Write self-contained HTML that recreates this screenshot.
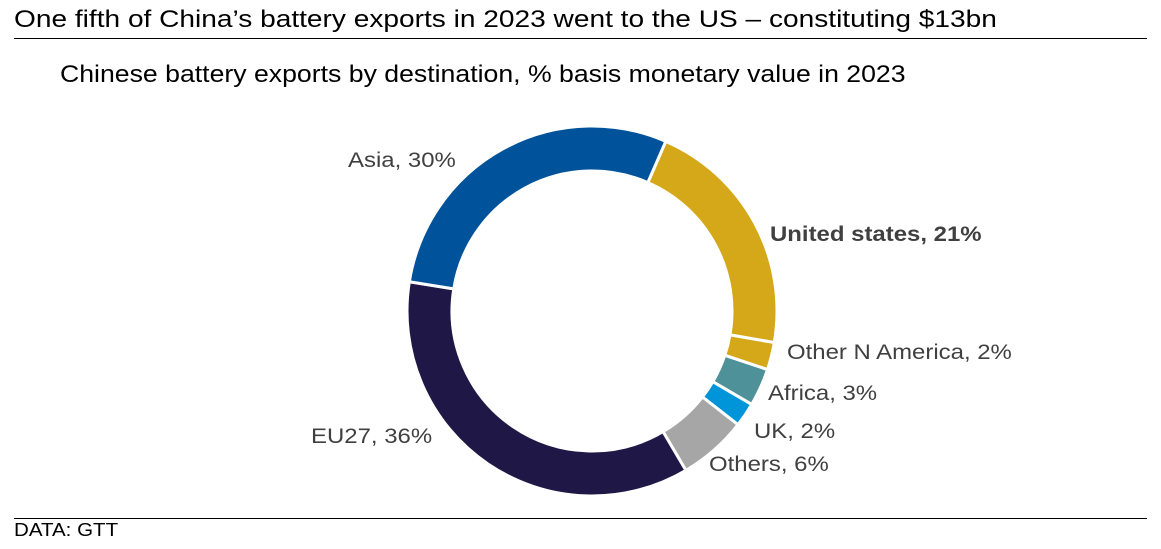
<!DOCTYPE html>
<html><head><meta charset="utf-8"><style>
body{margin:0;width:1161px;height:549px;background:#fff;font-family:"Liberation Sans",sans-serif;position:relative;overflow:hidden}
.t{position:absolute;white-space:nowrap;transform-origin:0 50%}
</style></head><body>
<div class="t" style="left:14px;top:6px;font-size:24px;color:#000;transform:scaleX(1.17)">One fifth of China’s battery exports in 2023 went to the US – constituting $13bn</div>
<div style="position:absolute;left:14px;top:38px;width:1133px;height:1px;background:#000"></div>
<div class="t" style="left:60px;top:61px;font-size:24px;color:#000;transform:scaleX(1.11)">Chinese battery exports by destination, % basis monetary value in 2023</div>
<svg id="s" width="1161" height="549" style="position:absolute;left:0;top:0"></svg>
<div class="t" style="left:348px;top:149px;font-size:21px;color:#404040;transform:scaleX(1.14)">Asia, 30%</div>
<div class="t" style="left:770px;top:223px;font-size:21px;color:#404040;font-weight:bold;transform:scaleX(1.14)">United states, 21%</div>
<div class="t" style="left:787px;top:341px;font-size:21px;color:#404040;transform:scaleX(1.14)">Other N America, 2%</div>
<div class="t" style="left:768px;top:382px;font-size:21px;color:#404040;transform:scaleX(1.14)">Africa, 3%</div>
<div class="t" style="left:754px;top:420px;font-size:21px;color:#404040;transform:scaleX(1.14)">UK, 2%</div>
<div class="t" style="left:709px;top:453px;font-size:21px;color:#404040;transform:scaleX(1.14)">Others, 6%</div>
<div class="t" style="left:311px;top:425px;font-size:21px;color:#404040;transform:scaleX(1.14)">EU27, 36%</div>
<div style="position:absolute;left:14px;top:518px;width:1133px;height:1px;background:#000"></div>
<div class="t" style="left:14px;top:520px;font-size:18px;color:#000;transform:scaleX(1.14)">DATA: GTT</div>
<script>
var cx=592,cy=311,R=185,r=140;
var d=[[21.2,"#d5a81a"],[2.4,"#d5a81a"],[3.3,"#4e9198"],[2.1,"#0095d9"],[6,"#a6a6a6"],[36,"#1f1846"],[29,"#00529b"]];
var a=23.5,s="";
function p(rad,ang){var t=ang*Math.PI/180;return (cx+rad*Math.sin(t)).toFixed(2)+","+(cy-rad*Math.cos(t)).toFixed(2);}
d.forEach(function(x){var b=a+x[0]*3.6;var l=(b-a)>180?1:0;
s+='<path d="M'+p(R,a)+' A'+R+','+R+' 0 '+l+' 1 '+p(R,b)+' L'+p(r,b)+' A'+r+','+r+' 0 '+l+' 0 '+p(r,a)+' Z" fill="'+x[1]+'" stroke="#fff" stroke-width="3"/>';a=b;});
document.getElementById("s").innerHTML=s;
</script>
</body></html>
